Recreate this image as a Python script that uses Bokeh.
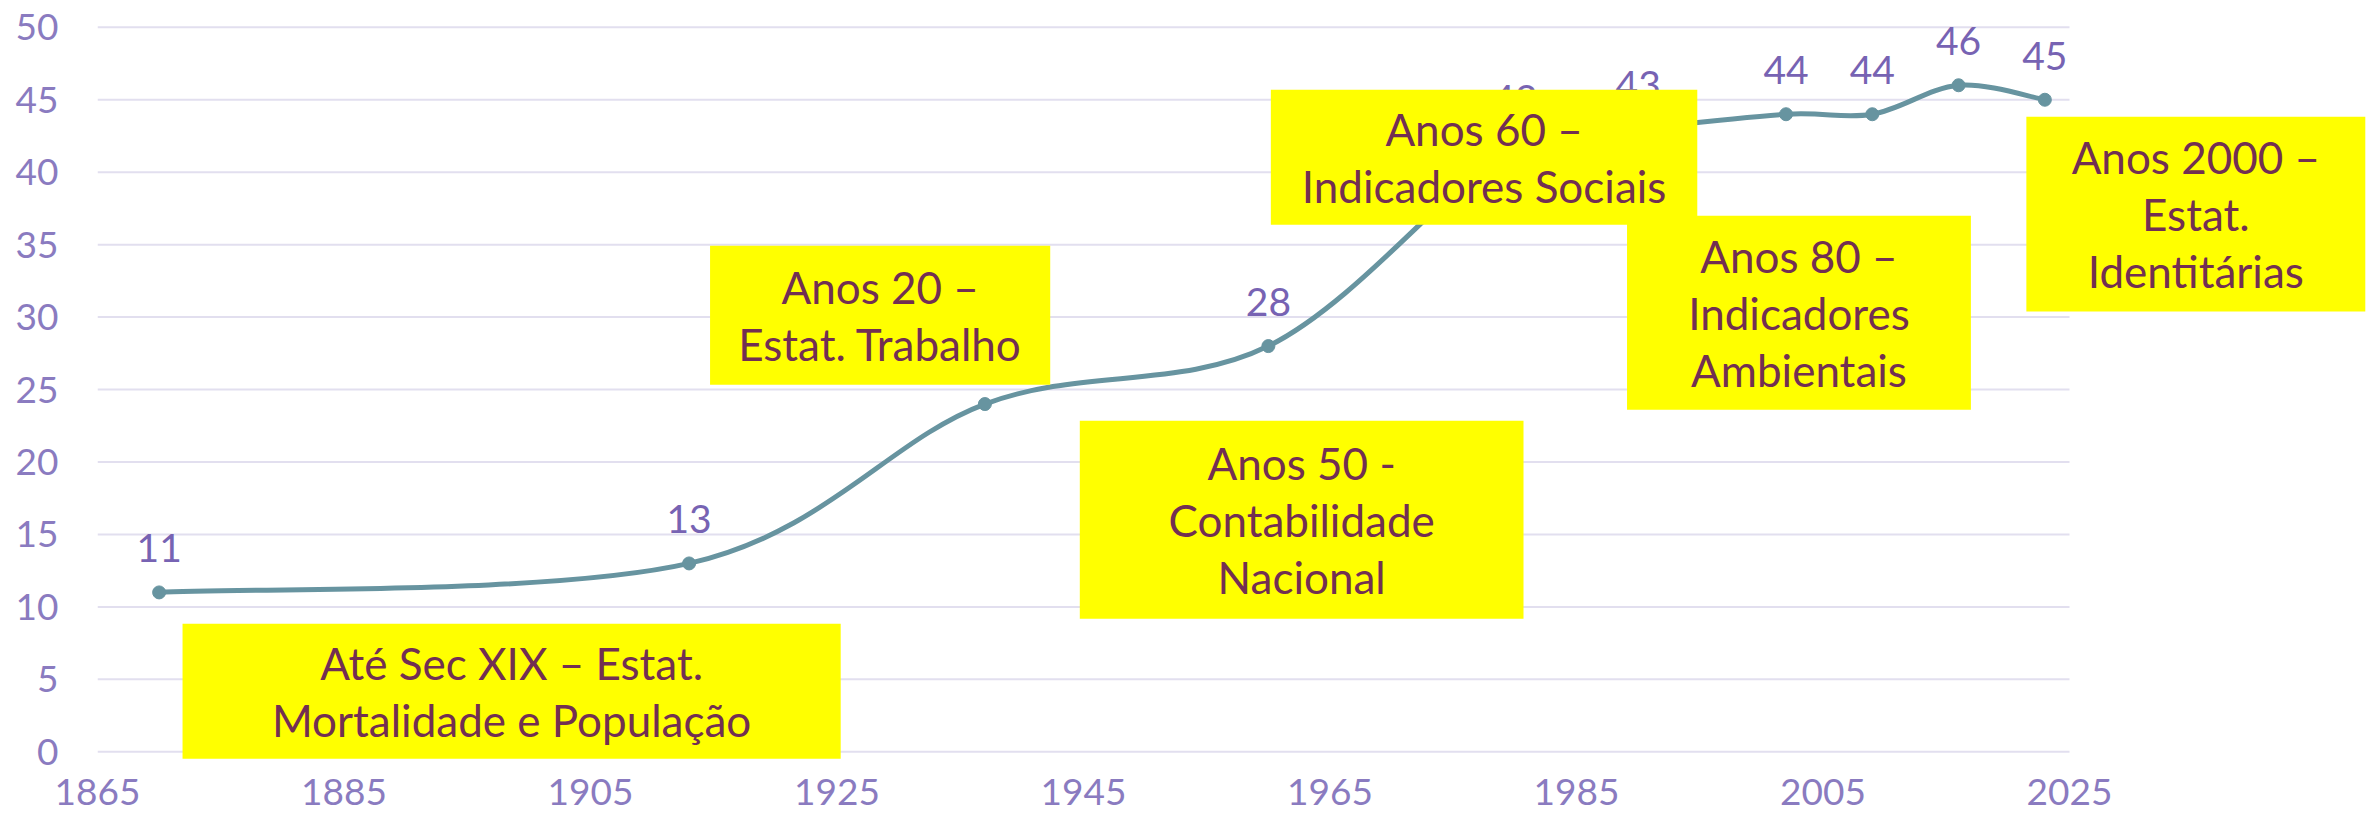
import numpy as np
from bokeh.plotting import figure
from bokeh.models import Range1d, FixedTicker, ColumnDataSource
from bokeh.core.properties import value
from bokeh.embed import file_html
from bokeh.resources import INLINE

# ---- data ----
years = [1870, 1913, 1937, 1960, 1980, 1990, 2002, 2009, 2016, 2023]
counts = [11, 13, 24, 28, 42, 43, 44, 44, 46, 45]
point_labels = ["11", "13", "", "28", "42", "43", "44", "44", "46", "45"]
x_ticks = [1865, 1885, 1905, 1925, 1945, 1965, 1985, 2005, 2025]
y_ticks = [0, 5, 10, 15, 20, 25, 30, 35, 40, 45, 50]

# ---- annotation boxes (text + extent in data units) ----
box_texts = [
    "Até Sec XIX – Estat.\nMortalidade e População",
    "Anos 20 –\nEstat. Trabalho",
    "Anos 50 -\nContabilidade\nNacional",
    "Anos 60 –\nIndicadores Sociais",
    "Anos 80 –\nIndicadores\nAmbientais",
    "Anos 2000 –\nEstat.\nIdentitárias",
]
box_left = [1871.9, 1914.7, 1944.7, 1960.2, 1989.1, 2021.5]
box_right = [1925.3, 1942.3, 1980.7, 1994.8, 2017.0, 2049.0]
box_top = [8.83, 34.92, 22.84, 45.69, 36.99, 43.82]
box_bottom = [-0.48, 25.33, 9.18, 36.37, 23.60, 30.39]

LINE_COLOR = "#6794A0"
LABEL_COLOR = "#7763B3"
TICK_COLOR = "#8A7BC0"
GRID_COLOR = "#E2DFEF"
BOX_FILL = "#FFFF00"
BOX_TEXT = "#722F52"
FONT = "Lato"

p = figure(
    frame_width=2278, frame_height=739,
    x_range=Range1d(1865, 1865 + 2278 / 12.325), y_range=Range1d(-0.6, 50.4),
    output_backend="svg", toolbar_location=None,
    min_border_left=97, min_border_right=0, min_border_top=21, min_border_bottom=64,
)
p.outline_line_color = None
p.grid.visible = False
p.background_fill_color = "white"
p.border_fill_color = "white"

for ax in (p.xaxis[0], p.yaxis[0]):
    ax.axis_line_color = None
    ax.major_tick_line_color = None
    ax.minor_tick_line_color = None
    ax.major_tick_out = 0
    ax.major_tick_in = 0
    ax.minor_tick_out = 0
    ax.major_label_text_font = FONT
    ax.major_label_text_font_size = "37px"
    ax.major_label_text_color = TICK_COLOR
p.xaxis.ticker = FixedTicker(ticks=x_ticks)
p.yaxis.ticker = FixedTicker(ticks=y_ticks)
p.xaxis.major_label_standoff = 18
p.yaxis.major_label_standoff = 39

# horizontal gridlines limited to the tick span
p.segment(x0=[x_ticks[0]] * len(y_ticks), x1=[x_ticks[-1]] * len(y_ticks),
          y0=y_ticks, y1=y_ticks, line_color=GRID_COLOR, line_width=2)

# smoothed line (Catmull-Rom bezier through the data points)
xs = np.array(years, dtype=float)
ys = np.array(counts, dtype=float)
n = len(xs)
xp = np.concatenate([[xs[0]], xs, [xs[-1]]])
yp = np.concatenate([[ys[0]], ys, [ys[-1]]])
cx0 = xs[:-1] + (xp[2:n + 1] - xp[0:n - 1]) / 6.0
cy0 = ys[:-1] + (yp[2:n + 1] - yp[0:n - 1]) / 6.0
cx1 = xs[1:] - (xp[3:n + 2] - xp[1:n]) / 6.0
cy1 = ys[1:] - (yp[3:n + 2] - yp[1:n]) / 6.0
p.bezier(x0=xs[:-1], y0=ys[:-1], x1=xs[1:], y1=ys[1:],
         cx0=cx0, cy0=cy0, cx1=cx1, cy1=cy1,
         line_color=LINE_COLOR, line_width=5, line_cap="round")

p.scatter(years, counts, size=13, color=LINE_COLOR)

lab_src = ColumnDataSource(dict(x=years, y=counts, t=point_labels))
p.text(x="x", y="y", text="t", source=lab_src, text_align="center",
       text_baseline="alphabetic", y_offset=-44,
       text_font=value(FONT), text_font_size="39px", text_color=LABEL_COLOR)

# annotation boxes
box_src = ColumnDataSource(dict(
    left=box_left, right=box_right, top=box_top, bottom=box_bottom,
    cx=[(a + b) / 2 for a, b in zip(box_left, box_right)],
    cy=[(a + b) / 2 for a, b in zip(box_top, box_bottom)],
    t=box_texts,
))
p.quad(left="left", right="right", top="top", bottom="bottom", source=box_src,
       fill_color=BOX_FILL, line_color=None)
p.text(x="cx", y="cy", text="t", source=box_src, text_align="center",
       text_baseline="middle", text_line_height=1.1,
       text_font=value(FONT), text_font_size="44px", text_color=BOX_TEXT)

open("out.html", "w").write(file_html(p, INLINE))
